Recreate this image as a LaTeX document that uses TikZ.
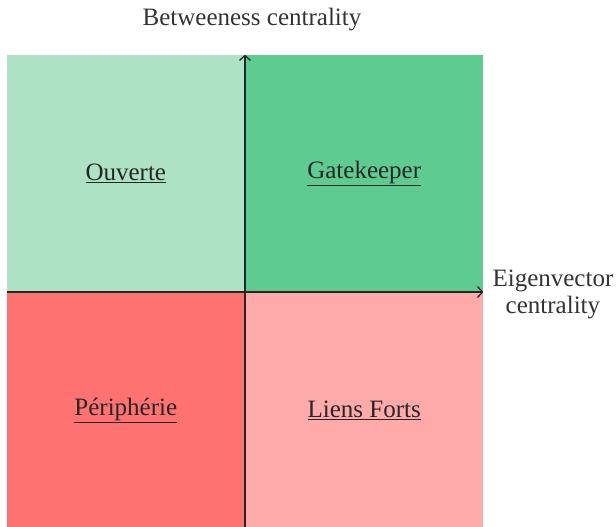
\documentclass[tikz,border=0pt]{standalone}
\usepackage{fontspec}
\setmainfont{Liberation Serif}
\usepackage{xcolor}
\usetikzlibrary{arrows.meta, positioning}
\definecolor{greenlight}{RGB}{174,226,196}
\definecolor{greendark}{RGB}{94,203,144}
\definecolor{redstrong}{RGB}{255,114,114}
\definecolor{redlight}{RGB}{255,170,170}
\tikzset{
	quad/.style={rectangle, draw=none, minimum width=238pt, minimum height=237pt, inner sep=0pt, font=\fontsize{25}{28}\selectfont, text=black!85},
	axis_arrow/.style={-{Straight Barb[length=5pt,width=11pt]}, draw=black!85, line width=1.3pt},
	axis_label/.style={font=\fontsize{25}{27}\selectfont, text=black!80, align=center}
}
\begin{document}
\begin{tikzpicture}[x=1pt, y=-1pt]
	\useasboundingbox (0,0) rectangle (616,527);
	\node[quad, fill=greenlight, anchor=south east] (ouverte) at (245,292) {\underline{Ouverte}};
	\node[quad, fill=greendark, right=0pt of ouverte] (gatekeeper) {\underline{Gatekeeper}};
	\node[quad, fill=redstrong, below=0pt of ouverte] (peripherie) {\underline{Périphérie}};
	\node[quad, fill=redlight, right=0pt of peripherie] (liens) {\underline{Liens Forts}};
	\draw[axis_arrow] (peripherie.south east) -- (ouverte.north east);
	\draw[axis_arrow] (ouverte.south west) -- (gatekeeper.south east);
	\node[axis_label] (between) at (252,20) {Betweeness centrality};
	\node[axis_label, anchor=west] (eigen) at (489,294) {Eigenvector\\centrality};
\end{tikzpicture}
\end{document}
